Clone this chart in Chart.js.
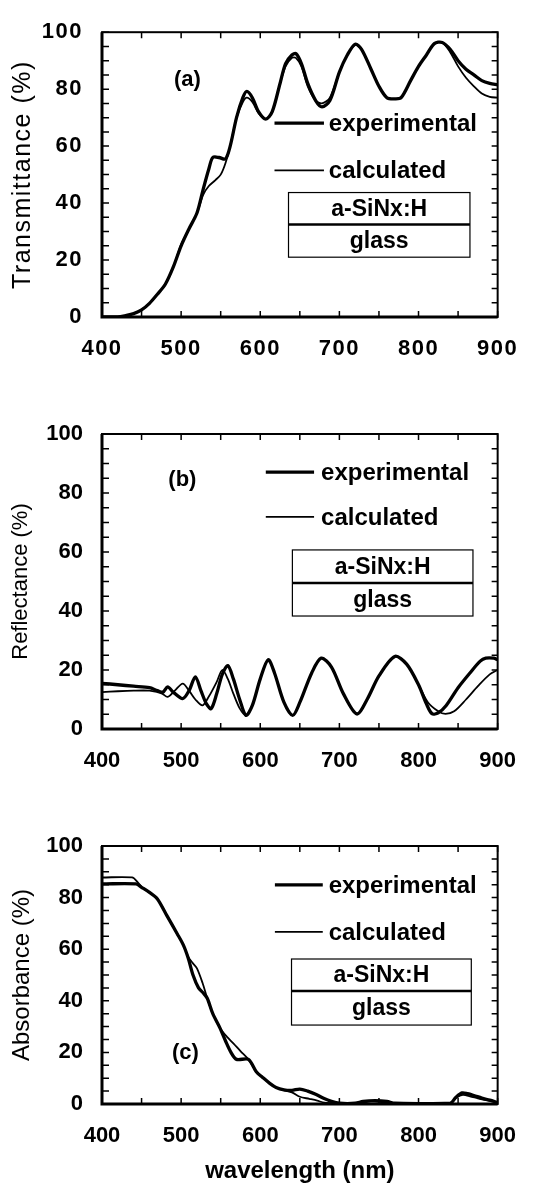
<!DOCTYPE html>
<html>
<head>
<meta charset="utf-8">
<script src="https://cdn.jsdelivr.net/npm/chart.js@4.4.0/dist/chart.umd.min.js"></script>
<style>
  html, body { margin: 0; padding: 0; background: #fff; }
  body { width: 535px; height: 1186px; position: relative; overflow: hidden; }
  canvas { position: absolute; left: 0; }
</style>
</head>
<body>
<canvas id="chartA" width="535" height="385" style="top:0"></canvas>
<canvas id="chartB" width="535" height="410" style="top:385px"></canvas>
<canvas id="chartC" width="535" height="391" style="top:795px"></canvas>
<script>
// wavelength (nm) / percent pairs
const transExp = [[400,0],[420,0],[430,0.5],[440,1.2],[450,2.5],[460,4.8],[470,8],[480,11.5],[490,17.5],[500,25],[510,31],[520,36.5],
  [528,45],[535,52],[540,56],[548,56],[556,55.5],[562,60],[570,70],[578,77],[583,79.2],[590,77],[598,72],[607,69.5],
  [615,72],[625,82],[632,89],[640,92],[645,92.5],[652,89],[660,82],[670,76],[678,73.8],[688,76],[700,86],[710,92],
  [720,95.8],[728,94],[740,87],[750,81],[760,77],[770,76.6],[778,77],[790,83],[800,88],[810,92],[820,96],[830,96.4],
  [840,94],[850,90],[860,87],[870,85],[880,83],[890,82],[900,81.5]];
const transCalc = [[400,0],[420,0],[430,0.5],[440,1.2],[450,2.5],[460,4.8],[470,8],[480,11.5],[490,17.5],[500,25.5],[510,31],[520,36.5],
  [528,43],[535,46],[543,48],[550,50],[556,54],[562,60],[570,70],[578,75.5],[583,77],[590,75.5],[598,71.5],[607,69.5],
  [615,72],[625,82],[632,88],[640,91],[645,91],[652,88],[660,81],[670,76],[678,75],[688,77],[700,86],[710,92],
  [720,95.5],[728,94],[740,87],[750,81],[760,77],[770,76.6],[778,77],[790,83],[800,88],[810,92],[820,96],[830,96.4],
  [840,93],[850,88],[860,84],[870,81],[880,78.5],[890,77.3],[900,77]];

const reflExp = [[400,15.5],[420,15],[440,14.5],[460,14],[470,13],[477,12.5],[483,14.3],[490,12.5],[502,10.3],[510,13],
  [518,17.7],[525,13],[532,8.5],[538,6.9],[545,12],[552,18.5],[559,21.5],[566,17],[574,10],[582,4.6],[590,8],[600,17],
  [610,23.5],[618,19],[630,9],[641,4.6],[650,9],[665,19],[677,24],[690,21],[705,12],[722,5.1],[735,10],[750,18],
  [770,24.6],[785,22],[800,15],[810,8.5],[817,5.2],[825,5.5],[835,8],[850,14],[865,19],[878,23],[885,24],[895,24],[900,23.5]];
const reflCalc = [[400,12.5],[420,12.8],[440,13],[460,13],[470,12.5],[476,12],[483,10.9],[492,13],[502,15.4],[510,13],
  [518,10],[527,8],[535,11],[545,16],[552,20],[559,17],[566,12],[574,7],[582,4.6],[590,8],[600,17],[610,23.5],[618,19],
  [630,9],[641,4.6],[650,9],[665,19],[677,24],[690,21],[705,12],[722,5.1],[735,10],[750,18],[770,24.6],[785,22],
  [800,15],[812,9],[825,6],[834,5.1],[845,6],[860,10],[875,14.5],[890,18.5],[900,20]];

const absExp = [[400,85.3],[443,85.3],[450,84],[460,82],[470,79.5],[482,73],[495,66],[503,61.5],[509,56.5],[515,50],
  [522,45],[528,43],[533,41],[540,35],[549,29.5],[556,24.5],[563,20],[570,17.3],[585,17.3],[595,12.5],[603,10.3],
  [612,8],[620,6.4],[630,5.5],[640,5.3],[650,5.8],[660,5],[670,3.8],[680,2.2],[690,1],[700,0.3],[720,0.3],[730,1],
  [745,1.3],[760,1],[770,0.3],[840,0.3],[847,2.5],[855,4.3],[862,4],[870,3.3],[880,2.3],[890,1.5],[900,0.6]];
const absCalc = [[400,87.8],[438,87.8],[445,86],[452,83.5],[460,82],[470,79.5],[482,73],[495,66],[503,61.5],[509,57],
  [515,54.5],[520,52.6],[527,47],[533,41],[540,35],[549,29.5],[558,26],[566,23.5],[575,20.5],[585,17.3],[595,12.5],
  [603,10.3],[612,8],[620,6.4],[630,5.3],[640,4.5],[650,2.8],[662,2],[672,1.3],[681,0.5],[700,0.3],[725,0.3],[740,1],
  [760,0.6],[780,0.3],[840,0.3],[848,2.5],[856,3.5],[865,3],[875,2.2],[885,1.5],[900,0.5]];

const seriesNames = ['experimental', 'calculated'];
const layerNames = ['a-SiNx:H', 'glass'];

Chart.defaults.font.family = "'Liberation Sans', Arial, Helvetica, sans-serif";
Chart.defaults.color = '#000';

// frame, inward ticks, panel tag, legend and the layer sketch
const framePlugin = {
  id: 'frame',
  beforeDraw(chart, args, o) {
    chart.ctx.letterSpacing = o.spacing || '0px';
  },
  afterDatasetsDraw(chart, args, o) {
    const { ctx, chartArea: a, scales: { x, y } } = chart;
    ctx.save();
    ctx.letterSpacing = '0px';
    ctx.strokeStyle = '#000';
    ctx.fillStyle = '#000';

    ctx.lineWidth = 1.5;
    ctx.beginPath();
    for (let v = 0; v <= 100; v += 5) {
      const py = y.getPixelForValue(v);
      ctx.moveTo(a.left, py); ctx.lineTo(a.left + 7, py);
      ctx.moveTo(a.right, py); ctx.lineTo(a.right - 6, py);
    }
    for (let w = 400; w <= 900; w += 50) {
      const px = x.getPixelForValue(w);
      ctx.moveTo(px, a.bottom); ctx.lineTo(px, a.bottom - 6);
      ctx.moveTo(px, a.top); ctx.lineTo(px, a.top + 6);
    }
    ctx.stroke();

    ctx.lineWidth = 2;
    ctx.strokeRect(a.left, a.top, a.right - a.left, a.bottom - a.top);
    ctx.lineWidth = 3;
    ctx.beginPath();
    ctx.moveTo(a.left, a.top); ctx.lineTo(a.left, a.bottom); ctx.lineTo(a.right, a.bottom);
    ctx.stroke();

    // panel tag
    ctx.font = "bold 22px 'Liberation Sans', Arial, sans-serif";
    ctx.textAlign = 'center';
    ctx.textBaseline = 'middle';
    ctx.fillText(o.tag, x.getPixelForValue(o.tagAt[0]), y.getPixelForValue(o.tagAt[1]));

    // legend
    const lx0 = x.getPixelForValue(o.legX[0]);
    const lx1 = x.getPixelForValue(o.legX[1]);
    const tx = x.getPixelForValue(o.legX[2]);
    ctx.font = "bold 24px 'Liberation Sans', Arial, sans-serif";
    ctx.textAlign = 'left';
    chart.data.datasets.forEach((ds, i) => {
      const py = y.getPixelForValue(o.legY[i]);
      ctx.lineWidth = ds.borderWidth;
      ctx.beginPath(); ctx.moveTo(lx0, py); ctx.lineTo(lx1, py); ctx.stroke();
      ctx.fillText(ds.label, tx, py + 1);
    });

    // layer sketch
    const bx0 = x.getPixelForValue(o.boxX[0]), bx1 = x.getPixelForValue(o.boxX[1]);
    const by0 = y.getPixelForValue(o.boxY[0]), bm = y.getPixelForValue(o.boxY[1]), by1 = y.getPixelForValue(o.boxY[2]);
    ctx.lineWidth = 1.2;
    ctx.strokeRect(bx0, by0, bx1 - bx0, by1 - by0);
    ctx.lineWidth = 2.5;
    ctx.beginPath(); ctx.moveTo(bx0, bm); ctx.lineTo(bx1, bm); ctx.stroke();
    ctx.font = "bold 23px 'Liberation Sans', Arial, sans-serif";
    ctx.textAlign = 'center';
    ctx.fillText(layerNames[0], (bx0 + bx1) / 2, (by0 + bm) / 2 + 1);
    ctx.fillText(layerNames[1], (bx0 + bx1) / 2, (bm + by1) / 2 + 1);
    ctx.restore();
  },
  afterDraw(chart) {
    chart.ctx.letterSpacing = '0px';
  }
};

function makePanel(id, exp, calc, cfg) {
  return new Chart(document.getElementById(id), {
    type: 'line',
    data: {
      datasets: [
        { label: seriesNames[0], data: exp, borderColor: '#000', borderWidth: 3.3, pointRadius: 0, tension: 0.3 },
        { label: seriesNames[1], data: calc, borderColor: '#000', borderWidth: 1.8, pointRadius: 0, tension: 0.3 }
      ]
    },
    options: {
      responsive: false,
      animation: false,
      devicePixelRatio: 1,
      layout: { padding: { top: cfg.padTop, right: cfg.padRight, left: 0, bottom: 0 } },
      plugins: { legend: { display: false }, tooltip: { enabled: false }, frame: cfg.frame },
      scales: {
        x: {
          type: 'linear', min: 400, max: 900,
          grid: { display: false, drawTicks: false }, border: { display: false },
          ticks: { stepSize: 100, padding: 19, color: '#000', font: { size: 22, weight: 'bold' } },
          title: cfg.xTitle
            ? { display: true, text: cfg.xTitle, color: '#000', font: { size: 24, weight: 'bold' }, padding: { top: 0, bottom: 0 } }
            : { display: false },
          afterFit: s => { s.height = cfg.xHeight; }
        },
        y: {
          min: 0, max: 100,
          grid: { display: false, drawTicks: false }, border: { display: false },
          ticks: { stepSize: 20, padding: 19, color: '#000', font: { size: 22, weight: 'bold' } },
          title: { display: true, text: cfg.yTitle, color: '#000', font: { size: cfg.yTitleSize }, padding: { top: 8, bottom: 0 } },
          afterFit: s => { s.width = 102; }
        }
      }
    },
    plugins: [framePlugin]
  });
}

makePanel('chartA', transExp, transCalc, {
  padTop: 22, padRight: 32, xHeight: 68, yTitle: 'Transmittance (%)', yTitleSize: 25,
  frame: { spacing: '1.5px', tag: '(a)', tagAt: [508, 83.4], legX: [618, 680.5, 686.7], legY: [68.1, 51.5], boxX: [635.7, 865], boxY: [43.7, 32.5, 21] }
});
makePanel('chartB', reflExp, reflCalc, {
  padTop: 49, padRight: 32, xHeight: 66, yTitle: 'Reflectance (%)', yTitleSize: 22,
  frame: { tag: '(b)', tagAt: [501.6, 84.4], legX: [607, 668, 676.8], legY: [87.1, 71.9], boxX: [640.6, 868.8], boxY: [60.7, 49.5, 38.3] }
});
makePanel('chartC', absExp, absCalc, {
  padTop: 51, padRight: 28, xHeight: 82, yTitle: 'Absorbance (%)', yTitleSize: 24, xTitle: 'wavelength (nm)',
  frame: { tag: '(c)', tagAt: [505.5, 19.8], legX: [618.5, 679, 686.4], legY: [84.9, 66.7], boxX: [639.5, 866.7], boxY: [56.2, 43.8, 30.6] }
});
</script>
</body>
</html>
